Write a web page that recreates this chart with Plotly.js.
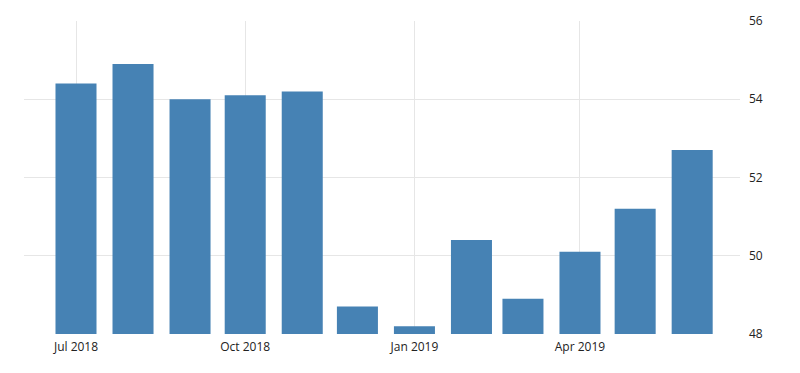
<!DOCTYPE html>
<html>
<head>
<meta charset="utf-8">
<script src="https://cdn.plot.ly/plotly-3.0.1.min.js"></script>
<style>html,body{margin:0;padding:0;background:#fff;}#chart{width:800px;height:373px;}</style>
</head>
<body>
<div id="chart"></div>
<script>
const months = ["2018-07-01","2018-08-01","2018-09-01","2018-10-01","2018-11-01","2018-12-01",
                "2019-01-01","2019-02-01","2019-03-01","2019-04-01","2019-05-01","2019-06-01"];
const values = [54.4, 54.9, 54.0, 54.1, 54.2, 48.7, 48.2, 50.4, 48.9, 50.1, 51.2, 52.7];
const yTicks = [48, 50, 52, 54, 56];

const DAY = 86400000;
const trace = {
  type: "bar",
  x: months,
  y: values,
  width: months.map(() => 22.3 * DAY),
  marker: {color: "#4682b4", line: {width: 0}},
  hoverinfo: "x+y"
};

const layout = {
  width: 800, height: 373,
  margin: {l: 24, r: 60, t: 21, b: 39, pad: 0},
  paper_bgcolor: "#fff", plot_bgcolor: "#fff",
  showlegend: false,
  font: {family: "Open Sans, DejaVu Sans, sans-serif", size: 12, color: "#222"},
  xaxis: {
    type: "date",
    range: ["2018-06-02 17:30", "2019-06-27 00:00"],
    tick0: "2018-07-01", dtick: "M3",
    tickformat: "%b %Y",
    showgrid: true, gridcolor: "#e6e6e6", gridwidth: 1,
    zeroline: false, showline: false, ticks: "",
    ticklabelstandoff: 4,
    tickfont: {size: 12, color: "#222"}
  },
  yaxis: {
    side: "right",
    range: [48, 56],
    tickvals: yTicks,
    ticktext: yTicks.map(String),
    showgrid: true, gridcolor: "#e6e6e6", gridwidth: 1,
    zeroline: false, showline: false, ticks: "",
    ticklabelstandoff: 8,
    tickfont: {size: 12, color: "#222"}
  }
};

Plotly.newPlot("chart", [trace], layout, {displayModeBar: false, staticPlot: true});
</script>
</body>
</html>
